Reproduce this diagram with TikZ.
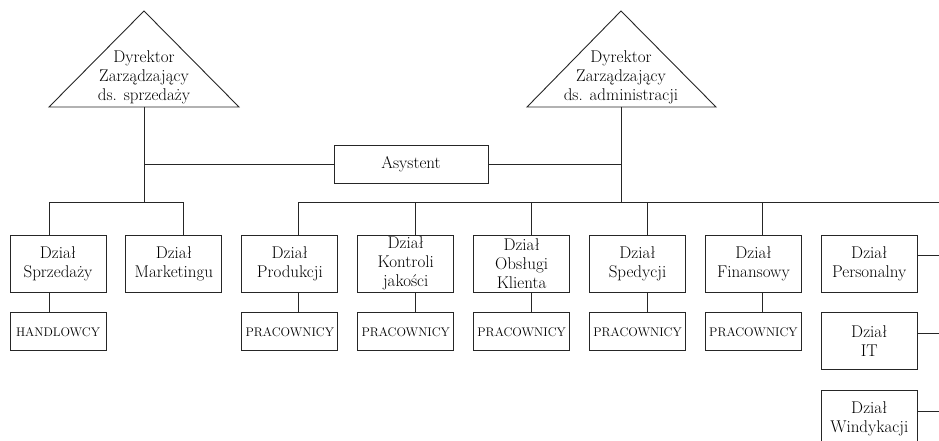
\documentclass[tikz,border=0pt]{standalone}
\usepackage{tikz}
\usetikzlibrary{positioning}
\tikzset{
    dzial/.style={rectangle, draw=black!85, line width=0.9pt, minimum width=96pt, minimum height=57pt, align=center, inner sep=0pt, font=\fontsize{17}{19}\selectfont},
    prac/.style={rectangle, draw=black!85, line width=0.9pt, minimum width=96pt, minimum height=38pt, inner sep=0pt, font=\fontsize{12.5}{14}\selectfont},
    asyst/.style={rectangle, draw=black!85, line width=0.9pt, minimum width=154pt, minimum height=38pt, font=\fontsize{17}{19}\selectfont},
    dyrtext/.style={align=center, inner sep=0pt, font=\fontsize{17}{19}\selectfont},
    line/.style={draw=black!85, line width=0.9pt}
}

\begin{document}
\begin{tikzpicture}[x=1pt, y=-1pt]

\useasboundingbox (0,0) rectangle (939,441);
\clip (0,0) rectangle (939,441);

% dyrektorzy
\draw[line] (49,107) -- (144,11) -- (239,107) -- cycle;
\node[dyrtext] (dyrS) at (144,77) {Dyrektor\\Zarządzający\\ds. sprzedaży};

\draw[line] (527,107) -- (621,11) -- (716,107) -- cycle;
\node[dyrtext] (dyrA) at (621,77) {Dyrektor\\Zarządzający\\ds. administracji};

\coordinate (baseS) at (144,107);
\coordinate (baseA) at (621,107);
\coordinate (busL) at (144,202);
\coordinate (busR) at (621,202);
\coordinate (edgeR) at (939,202);

\node[asyst] (asyst) at (411,164) {Asystent};

% dzialy
\node[dzial] (sprz) at (58,263.5) {Dział\\Sprzedaży};
\node[dzial, right=19pt of sprz] (mark) {Dział\\Marketingu};
\node[dzial, right=19pt of mark] (prod) {Dział\\Produkcji};
\node[dzial, right=19pt of prod] (kontr) {Dział\\Kontroli\\jakości};
\node[dzial, right=19pt of kontr] (obsl) {Dział\\Obsługi\\Klienta};
\node[dzial, right=19pt of obsl] (sped) {Dział\\Spedycji};
\node[dzial, right=19pt of sped] (fin) {Dział\\Finansowy};
\node[dzial, right=19pt of fin] (pers) {Dział\\Personalny};
\node[dzial, below=20pt of pers] (it) {Dział\\IT};
\node[dzial, below=20pt of it] (windyk) {Dział\\Windykacji};

% pracownicy
\node[prac, below=20pt of sprz] (handl) {HANDLOWCY};
\node[prac, below=20pt of prod] (pracProd) {PRACOWNICY};
\node[prac, below=20pt of kontr] (pracKontr) {PRACOWNICY};
\node[prac, below=20pt of obsl] (pracObsl) {PRACOWNICY};
\node[prac, below=20pt of sped] (pracSped) {PRACOWNICY};
\node[prac, below=20pt of fin] (pracFin) {PRACOWNICY};

% polaczenia
\draw[line] (baseS) -- (busL);
\draw[line] (baseA) -- (busR);
\draw[line] (baseS |- asyst.west) -- (asyst.west);
\draw[line] (asyst.east) -- (baseA |- asyst.east);

\draw[line] ([xshift=-9pt]sprz.north) |- ([xshift=9.5pt]mark.north |- busL) -- ([xshift=9.5pt]mark.north);
\draw[line] ([xshift=9pt]prod.north) |- (edgeR);
\draw[line] ([xshift=9.5pt]kontr.north) -- ([xshift=9.5pt]kontr.north |- busR);
\draw[line] ([xshift=10pt]obsl.north) -- ([xshift=10pt]obsl.north |- busR);
\draw[line] ([xshift=10pt]sped.north) -- ([xshift=10pt]sped.north |- busR);
\draw[line] ([xshift=9.5pt]fin.north) -- ([xshift=9.5pt]fin.north |- busR);

\draw[line] ([xshift=-9pt]sprz.south) -- ([xshift=-9pt]handl.north);
\draw[line] ([xshift=9pt]prod.south) -- ([xshift=9pt]pracProd.north);
\draw[line] ([xshift=9.5pt]kontr.south) -- ([xshift=9.5pt]pracKontr.north);
\draw[line] ([xshift=10pt]obsl.south) -- ([xshift=10pt]pracObsl.north);
\draw[line] ([xshift=10pt]sped.south) -- ([xshift=10pt]pracSped.north);
\draw[line] ([xshift=9.5pt]fin.south) -- ([xshift=9.5pt]pracFin.north);

\draw[line] ([yshift=8pt]pers.east) -- ([yshift=8pt]pers.east -| edgeR);
\draw[line] ([yshift=8pt]it.east) -- ([yshift=8pt]it.east -| edgeR);
\draw[line] ([yshift=8pt]windyk.east) -- ([yshift=8pt]windyk.east -| edgeR);

\end{tikzpicture}
\end{document}
